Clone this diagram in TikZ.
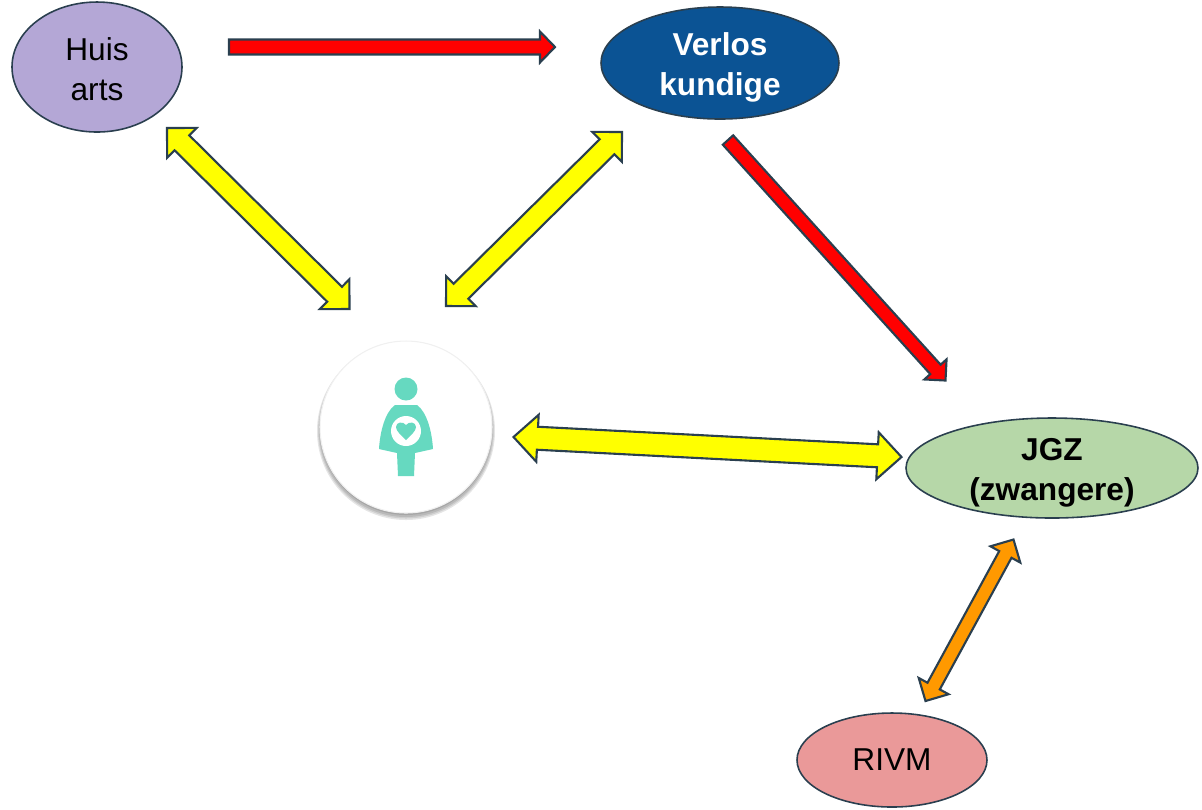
\documentclass[tikz,border=0pt]{standalone}
\usepackage{fontspec}
\setmainfont{Liberation Sans}
\usetikzlibrary{calc,shapes.geometric}

\definecolor{edgeblue}{HTML}{2A3F4F}
\definecolor{teal}{HTML}{66D9C0}
\definecolor{huisfill}{HTML}{B4A7D6}
\definecolor{verlosfill}{HTML}{0B5394}
\definecolor{jgzfill}{HTML}{B6D7A8}
\definecolor{rivmfill}{HTML}{EA9999}
\definecolor{orangefill}{HTML}{FF9900}
\definecolor{yellowfill}{HTML}{FFFF00}
\definecolor{redfill}{HTML}{FF0000}

\tikzset{
	party/.style={ellipse, draw=edgeblue, line width=0.45pt, inner sep=0pt,
		font=\fontsize{9}{11.3}\selectfont},
	every label/.style={align=center, inner sep=0pt, font=\fontsize{9}{11.3}\selectfont},
	blockarrow/.style={draw=edgeblue, line width=0.6pt, line join=miter}
}

% #1 style, #2 tail, #3 tip, #4 half width, #5 half head, #6 head length
\newcommand{\onewayarrow}[6]{
	\draw[blockarrow, #1] (#3)
	-- ($(#3)!#6!(#2)!#5!90:(#2)$) -- ($(#3)!#6!(#2)!#4!90:(#2)$)
	-- ($(#2)!#4!-90:(#3)$) -- ($(#2)!#4!90:(#3)$)
	-- ($(#3)!#6!(#2)!#4!-90:(#2)$) -- ($(#3)!#6!(#2)!#5!-90:(#2)$) -- cycle;
}
% #1 style, #2 and #3 tips, #4 half width, #5 half head, #6 head length
\newcommand{\twowayarrow}[6]{
	\draw[blockarrow, #1] (#2)
	-- ($(#2)!#6!(#3)!#5!90:(#3)$) -- ($(#2)!#6!(#3)!#4!90:(#3)$)
	-- ($(#3)!#6!(#2)!#4!-90:(#2)$) -- ($(#3)!#6!(#2)!#5!-90:(#2)$)
	-- (#3)
	-- ($(#3)!#6!(#2)!#5!90:(#2)$) -- ($(#3)!#6!(#2)!#4!90:(#2)$)
	-- ($(#2)!#6!(#3)!#4!-90:(#3)$) -- ($(#2)!#6!(#3)!#5!-90:(#3)$) -- cycle;
}

\begin{document}
\begin{tikzpicture}[x=0.1mm, y=-0.1mm]
	\useasboundingbox (0, 0) rectangle (1202, 809);

	\draw
	(97, 67) node [party, fill=huisfill, minimum width=17cm/10, minimum height=13cm/10,
		label={[name=huistext, yshift=-0.25mm]center:Huis\\arts}] (huisarts) {}
	(720, 63) node [party, fill=verlosfill, minimum width=23.8cm/10, minimum height=11.2cm/10,
		label={[name=verlostext, yshift=-0.45mm, text=white]center:\textbf{Verlos}\\\textbf{kundige}}] (verlos) {}
	(1052, 468) node [party, fill=jgzfill, minimum width=29.2cm/10, minimum height=10cm/10,
		label={[name=jgztext, yshift=-0.5mm]center:\textbf{JGZ}\\\textbf{(zwangere)}}] (jgz) {}
	(892, 760) node [party, fill=rivmfill, minimum width=19cm/10, minimum height=9.4cm/10] (rivm) {RIVM};

	% circle with soft shadow
	\foreach \grow/\drop in {3/4, 2/3.5, 1/3, 0/2}
		\fill[black, opacity=0.1] (406, 427+\drop) circle [radius=8.6mm+\grow*0.1mm];
	\node [circle, fill=white, draw=black!6, line width=0.3pt, inner sep=0pt, minimum size=17.2mm] (zwangere) at (406, 427) {};

	% figure
	\fill[teal] (406, 389) circle [radius=1.15mm];
	\fill[teal] (395, 405) .. controls (385, 412) and (380, 432) .. (379, 449)
	-- (397, 453) -- (398, 476) -- (414, 476) -- (415, 453) -- (433, 449)
	.. controls (432, 432) and (427, 412) .. (417, 405) -- cycle;
	\fill[white] (406, 431) circle [radius=1.5mm];
	\fill[teal] (406, 440) .. controls (401, 435) and (396, 431) .. (396, 427)
	.. controls (396, 422) and (403, 421) .. (406, 425)
	.. controls (409, 421) and (416, 422) .. (416, 427)
	.. controls (416, 431) and (411, 435) .. (406, 440) -- cycle;

	\coordinate (huisOut) at (229, 47);
	\coordinate (verlosIn) at (555, 47);
	\coordinate (verlosOut) at (728, 140);
	\coordinate (jgzIn) at (945.5, 380.5);
	\coordinate (huisTip) at (167, 128);
	\coordinate (zwangereLeft) at (349.5, 309);
	\coordinate (verlosTip) at (622, 132);
	\coordinate (zwangereRight) at (446, 306);
	\coordinate (zwangereSide) at (513.5, 437);
	\coordinate (jgzSide) at (901.5, 457);
	\coordinate (jgzBottom) at (1013.5, 539.5);
	\coordinate (rivmTop) at (925.5, 701);

	\onewayarrow{fill=redfill}{huisOut}{verlosIn}{0.75mm}{1.55mm}{1.5mm}
	\onewayarrow{fill=redfill}{verlosOut}{jgzIn}{0.7mm}{1.5mm}{1.5mm}
	\twowayarrow{fill=yellowfill}{huisTip}{zwangereLeft}{1.05mm}{2.1mm}{2.1mm}
	\twowayarrow{fill=yellowfill}{verlosTip}{zwangereRight}{1.05mm}{2.1mm}{2.1mm}
	\twowayarrow{fill=yellowfill}{zwangereSide}{jgzSide}{1.15mm}{2.35mm}{2.4mm}
	\twowayarrow{fill=orangefill}{jgzBottom}{rivmTop}{0.7mm}{1.7mm}{1.7mm}
\end{tikzpicture}
\end{document}
